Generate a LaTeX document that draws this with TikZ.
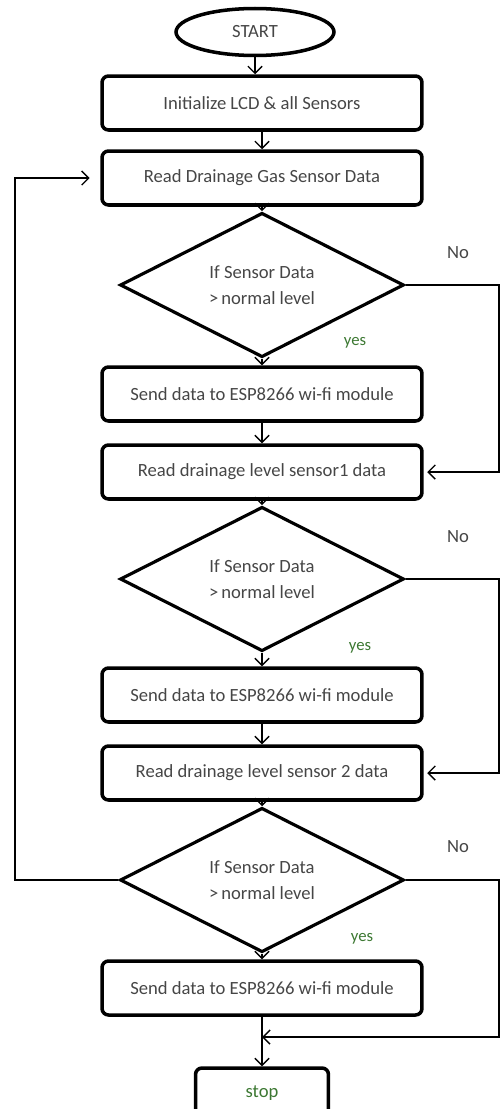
\documentclass[tikz,border=0pt]{standalone}
\usepackage{fontspec}
\setmainfont{Carlito}
\usetikzlibrary{shapes.geometric,arrows.meta}

\definecolor{txtgray}{RGB}{70,70,70}
\definecolor{spellgreen}{RGB}{60,120,50}

\tikzset{
    stepbox/.style={draw, line width=2pt, rounded corners=0.13cm,
        minimum width=6.4cm, minimum height=1.08cm, inner sep=0pt,
        text=txtgray, font=\fontsize{10.6}{12}\selectfont},
    decision/.style={draw, diamond, line width=1.8pt, inner sep=0pt,
        minimum width=5.68cm, minimum height=2.5cm, align=center,
        text=txtgray, font=\fontsize{10.6}{14.5}\selectfont},
    terminal/.style={draw, ellipse, line width=2pt,
        minimum width=3.16cm, minimum height=0.94cm, inner sep=0pt,
        text=txtgray, font=\fontsize{10.6}{12}\selectfont},
    flow/.style={line width=0.8pt, -{Straight Barb[length=4pt,width=8pt]}},
    answer/.style={text=txtgray, font=\fontsize{10.6}{12}\selectfont},
    yeslabel/.style={text=spellgreen, font=\fontsize{9.5}{11}\selectfont}
}

\begin{document}
\begin{tikzpicture}[x=0.02cm, y=-0.02cm]

    % page size of the reference
    \clip (0,0) rectangle (500,1109);
    \useasboundingbox (0,0) rectangle (500,1109);

    % Choose the x of the main column
    \def\cx{262}

    % Start and first steps
    \node[terminal] (start) at (255,32) {START};
    \node[stepbox] (init) at (\cx,103) {Initialize LCD \& all Sensors};
    \node[stepbox] (gas) at (\cx,178) {Read Drainage Gas Sensor Data};

    % Gas sensor check
    \node[decision] (chk1) at (\cx,285) {If Sensor Data\\ \textgreater\,normal level};
    \node[stepbox] (send1) at (\cx,394) {Send data to ESP8266 wi-fi module};
    \node[stepbox] (lvl1) at (\cx,472) {Read drainage level sensor1 data};

    % Level sensor 1 check
    \node[decision] (chk2) at (\cx,579) {If Sensor Data\\ \textgreater\,normal level};
    \node[stepbox] (send2) at (\cx,695) {Send data to ESP8266 wi-fi module};
    \node[stepbox] (lvl2) at (\cx,773) {Read drainage level sensor 2 data};

    % Level sensor 2 check
    \node[decision] (chk3) at (\cx,880) {If Sensor Data\\ \textgreater\,normal level};
    \node[stepbox] (send3) at (\cx,988) {Send data to ESP8266 wi-fi module};
    \node[stepbox, minimum width=2.66cm, minimum height=1cm] (stop) at (\cx,1093)
        {\textcolor{spellgreen}{stop}};

    % return lines
    \coordinate (rline) at (499,0);
    \coordinate (lline) at (15,0);
    \coordinate (join) at (\cx,1037);

    % Main flow
    \draw[flow] (start.south) -- (start.south |- init.north);
    \draw[flow] (init) -- (gas);
    \draw[flow] (gas) -- (chk1);
    \draw[flow] (chk1) -- (send1);
    \draw[flow] (send1) -- (lvl1);
    \draw[flow] (lvl1) -- (chk2);
    \draw[flow] (chk2) -- (send2);
    \draw[flow] (send2) -- (lvl2);
    \draw[flow] (lvl2) -- (chk3);
    \draw[flow] (chk3) -- (send3);
    \draw[flow] (send3) -- (stop);

    % No branches
    \draw[flow] (chk1.east) -- (chk1.east -| rline) -- (rline |- lvl1.east)
        -- ([xshift=2pt]lvl1.east);
    \draw[flow] (chk2.east) -- (chk2.east -| rline) -- (rline |- lvl2.east)
        -- ([xshift=2pt]lvl2.east);
    \draw[flow] (chk3.east) -- (chk3.east -| rline) -- (rline |- join)
        -- (join);

    % loop back to the gas sensor
    \draw[flow] (chk3.west) -- (chk3.west -| lline) -- (lline |- gas.west)
        -- ([xshift=-6pt]gas.west);

    % labels
    \foreach \y in {253,537,847}
        \node[answer] at (458,\y) {No};
    \node[yeslabel] at (355,343) {yes};
    \node[yeslabel] at (360,648) {yes};
    \node[yeslabel] at (362,939) {yes};

\end{tikzpicture}
\end{document}
